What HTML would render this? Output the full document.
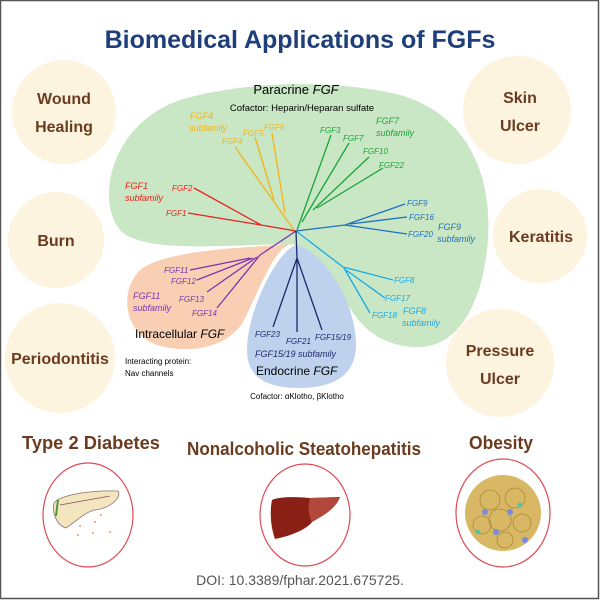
<!DOCTYPE html>
<html><head><meta charset="utf-8"><style>
html,body{margin:0;padding:0;background:#fff}
svg{display:block}
text{font-family:"Liberation Sans",sans-serif}
.c{fill:#fdf4e0}
.l{font-weight:bold;font-size:16px;fill:#6b3b1f;text-anchor:middle}
.t{font-style:italic;font-size:8px}
</style></head><body>
<svg width="600" height="600" viewBox="0 0 600 600">
<rect x="0.5" y="0.5" width="598" height="598" fill="#fff" stroke="#555" stroke-width="1.5"/>
<text x="300" y="48" text-anchor="middle" font-size="25" font-weight="bold" fill="#1f3f7a">Biomedical Applications of FGFs</text>
<circle class="c" cx="64" cy="112" r="52"/>
<circle class="c" cx="56" cy="240" r="48"/>
<circle class="c" cx="60" cy="358" r="55"/>
<circle class="c" cx="517" cy="110" r="54"/>
<circle class="c" cx="540" cy="236" r="47"/>
<circle class="c" cx="500" cy="363" r="54"/>
<text class="l" x="64" y="104">Wound</text><text class="l" x="64" y="132">Healing</text>
<text class="l" x="56" y="246">Burn</text>
<text class="l" x="60" y="364">Periodontitis</text>
<text class="l" x="520" y="103">Skin</text><text class="l" x="520" y="131">Ulcer</text>
<text class="l" x="541" y="242">Keratitis</text>
<text class="l" x="500" y="356">Pressure</text><text class="l" x="500" y="384">Ulcer</text>
<path d="M296,245 C250,242 150,256 122,232 C95,205 108,125 180,100 C240,82 330,78 400,95 C470,115 495,180 487,250 C480,310 455,350 413,347 C372,344 355,320 340,290 C325,262 310,248 296,245 Z" fill="#c9e7c5"/>
<path d="M290,244 C272,252 262,285 243,322 C228,347 192,354 160,346 C124,335 118,292 140,270 C165,250 240,248 290,244 Z" fill="#f9cfb4"/>
<path d="M296,245 C322,250 356,300 356,345 C356,382 322,388 300,388 C265,388 247,377 247,350 C247,310 278,250 296,245 Z" fill="#bed2ee"/>
<g fill="none" stroke-width="1.3">
<path stroke="#e8201c" d="M194,188 L261,225 M188,213 L261,225 L296,231"/>
<path stroke="#f2b318" d="M235,147 L294,230 M255,137 L274,200 M272,133 L285,213"/>
<path stroke="#1aa43a" d="M331,135 L297,230 M349,143 L302,222 M369,157 L313,210 M383,168 L317,208"/>
<path stroke="#1d6fc1" d="M405,204 L345,225 M407,217 L350,224 M407,234 L345,225 L296,231"/>
<path stroke="#1ba8e4" d="M296,231 L343,267 M393,280 L343,267 M385,298 L346,270 M370,313 L344,268"/>
<path stroke="#7a35b0" d="M296,231 L260,255 M190,270 L250,258 M197,280 L253,258 M207,292 L257,257 M217,308 L260,255"/>
<path stroke="#1e2a6b" d="M296,231 L297,258 M273,327 L297,258 L297,332 M322,330 L297,258"/>
</g>
<text x="296" y="94" text-anchor="middle" font-size="13">Paracrine <tspan font-style="italic">FGF</tspan></text>
<text x="302" y="111" text-anchor="middle" font-size="9.5">Cofactor: Heparin/Heparan sulfate</text>
<g class="t" fill="#f2b318"><text x="190" y="119" font-size="9">FGF4</text><text x="189" y="131" font-size="9">subfamily</text><text x="222" y="144">FGF4</text><text x="243" y="136">FGF5</text><text x="264" y="130">FGF6</text></g>
<g class="t" fill="#1aa43a"><text x="320" y="133">FGF3</text><text x="343" y="141">FGF7</text><text x="376" y="124" font-size="9">FGF7</text><text x="376" y="136" font-size="9">subfamily</text><text x="363" y="154">FGF10</text><text x="379" y="168">FGF22</text></g>
<g class="t" fill="#e8201c"><text x="125" y="189" font-size="9">FGF1</text><text x="125" y="201" font-size="9">subfamily</text><text x="172" y="191">FGF2</text><text x="166" y="216">FGF1</text></g>
<g class="t" fill="#1d6fc1"><text x="407" y="206">FGF9</text><text x="409" y="220">FGF16</text><text x="408" y="237">FGF20</text><text x="438" y="230" font-size="9">FGF9</text><text x="437" y="242" font-size="9">subfamily</text></g>
<g class="t" fill="#1ba8e4"><text x="394" y="283">FGF8</text><text x="385" y="301">FGF17</text><text x="372" y="318">FGF18</text><text x="403" y="314" font-size="9">FGF8</text><text x="402" y="326" font-size="9">subfamily</text></g>
<g class="t" fill="#7a35b0"><text x="164" y="273">FGF11</text><text x="171" y="284">FGF12</text><text x="179" y="302">FGF13</text><text x="192" y="316">FGF14</text><text x="133" y="299" font-size="9">FGF11</text><text x="133" y="311" font-size="9">subfamily</text></g>
<text x="135" y="338" font-size="12">Intracellular <tspan font-style="italic">FGF</tspan></text>
<text x="125" y="364" font-size="8">Interacting protein:</text><text x="125" y="376" font-size="8">Nav channels</text>
<g class="t" fill="#1e2a6b"><text x="255" y="337">FGF23</text><text x="286" y="344">FGF21</text><text x="315" y="340">FGF15/19</text><text x="255" y="357" font-size="9">FGF15/19 subfamily</text></g>
<text x="256" y="375" font-size="12">Endocrine <tspan font-style="italic">FGF</tspan></text>
<text x="297" y="399" text-anchor="middle" font-size="8">Cofactor: αKlotho, βKlotho</text>
<text class="l" x="91" y="449" style="font-size:18px" textLength="138" lengthAdjust="spacingAndGlyphs">Type 2 Diabetes</text>
<text class="l" x="304" y="455" style="font-size:18px" textLength="234" lengthAdjust="spacingAndGlyphs">Nonalcoholic Steatohepatitis</text>
<text class="l" x="501" y="449" style="font-size:18px" textLength="64" lengthAdjust="spacingAndGlyphs">Obesity</text>
<ellipse cx="88" cy="515" rx="45" ry="52" fill="none" stroke="#e04a55" stroke-width="1.2"/>
<ellipse cx="305" cy="515" rx="45" ry="51" fill="none" stroke="#e04a55" stroke-width="1.2"/>
<ellipse cx="503" cy="513" rx="47" ry="54" fill="none" stroke="#e04a55" stroke-width="1.2"/>
<path d="M54,503 C60,495 90,490 118,491 C122,496 112,508 95,510 C85,512 78,520 66,528 C56,525 52,512 54,503 Z" fill="#f3e6bf" stroke="#8a6f6f" stroke-width="0.8"/>
<path d="M58,500 L56,516" stroke="#4a9a3a" stroke-width="2"/>
<path d="M60,505 L110,496" stroke="#8a4a6a" stroke-width="0.8"/>
<g fill="#e79a6a"><circle cx="95" cy="522" r="1"/><circle cx="101" cy="515" r="1"/><circle cx="80" cy="526" r="1"/><circle cx="93" cy="533" r="1"/><circle cx="78" cy="535" r="1"/><circle cx="110" cy="532" r="1"/></g>
<path d="M272,500 C280,496 300,497 310,498 L340,497 C335,510 322,516 312,522 C306,530 290,536 275,539 C270,525 270,510 272,500 Z" fill="#8a2015"/>
<path d="M310,498 L340,497 C335,510 322,516 312,522 C308,515 308,505 310,498 Z" fill="#b2473c"/>
<circle cx="503" cy="513" r="38" fill="#d8b865"/>
<g fill="none" stroke="#a88a3a" stroke-width="0.8"><circle cx="490" cy="500" r="10"/><circle cx="515" cy="498" r="10"/><circle cx="500" cy="520" r="11"/><circle cx="522" cy="523" r="9"/><circle cx="482" cy="525" r="9"/><circle cx="505" cy="540" r="8"/></g>
<g fill="#7a8ae0"><circle cx="485" cy="512" r="3"/><circle cx="510" cy="512" r="3"/><circle cx="525" cy="540" r="3"/><circle cx="496" cy="532" r="3"/></g>
<g fill="#5cc0a0"><circle cx="520" cy="505" r="2.5"/><circle cx="478" cy="532" r="2.5"/></g>
<text x="300" y="585" text-anchor="middle" font-size="14" fill="#555">DOI: 10.3389/fphar.2021.675725.</text>
</svg>
</body></html>
